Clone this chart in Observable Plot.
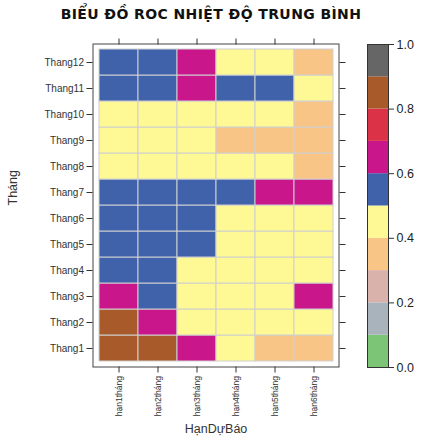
<!DOCTYPE html>
<html>
<head>
<meta charset="utf-8">
<script src="https://cdn.jsdelivr.net/npm/d3@7"></script>
<script src="https://cdn.jsdelivr.net/npm/@observablehq/plot@0.6"></script>
<style>
  html, body { margin: 0; padding: 0; background: #fff; }
  #wrap { position: relative; width: 422px; height: 442px; overflow: hidden; font-family: "Liberation Sans", Arial, sans-serif; }
  #title { position: absolute; left: 0; top: 6px; width: 422px; text-align: center; font-family: "DejaVu Sans", sans-serif; font-weight: bold; font-size: 14px; letter-spacing: 0.4px; color: #111; }
  #main, #bar { position: absolute; top: 0; }
  #main { left: 0; }
  #bar { left: 360px; }
</style>
</head>
<body>
<div id="wrap">
  <div id="title">BIỂU ĐỒ ROC NHIỆT ĐỘ TRUNG BÌNH</div>
  <div id="main"></div>
  <div id="bar"></div>
</div>
<script>
const months = ["Thang1","Thang2","Thang3","Thang4","Thang5","Thang6","Thang7","Thang8","Thang9","Thang10","Thang11","Thang12"];
const leads = ["hạn1tháng","hạn2tháng","hạn3tháng","hạn4tháng","hạn5tháng","hạn6tháng"];
// ROC values per month (rows) for each lead (columns), estimated from colour bins
const rocThang1  = [0.85, 0.85, 0.65, 0.45, 0.35, 0.35];
const rocThang2  = [0.85, 0.65, 0.45, 0.45, 0.45, 0.45];
const rocThang3  = [0.65, 0.55, 0.45, 0.45, 0.45, 0.65];
const rocThang4  = [0.55, 0.55, 0.45, 0.45, 0.45, 0.45];
const rocThang5  = [0.55, 0.55, 0.55, 0.45, 0.45, 0.45];
const rocThang6  = [0.55, 0.55, 0.55, 0.45, 0.45, 0.45];
const rocThang7  = [0.55, 0.55, 0.55, 0.55, 0.65, 0.65];
const rocThang8  = [0.45, 0.45, 0.45, 0.45, 0.45, 0.35];
const rocThang9  = [0.45, 0.45, 0.45, 0.35, 0.35, 0.35];
const rocThang10 = [0.45, 0.45, 0.45, 0.45, 0.45, 0.35];
const rocThang11 = [0.55, 0.55, 0.65, 0.55, 0.55, 0.45];
const rocThang12 = [0.55, 0.55, 0.65, 0.45, 0.45, 0.35];
const colorBreaks = [0.1, 0.2, 0.3, 0.4, 0.5, 0.6, 0.7, 0.8, 0.9];
const colorRange = ["#7cc576","#a8b3bb","#d9b2ac","#f9c587","#fef994","#3f62ab","#c9168a","#db3247","#a85a2b","#666666"];
const barTicks = [0, 0.2, 0.4, 0.6, 0.8, 1.0];
const barEdges = [0, 0.1, 0.2, 0.3, 0.4, 0.5, 0.6, 0.7, 0.8, 0.9, 1.0];

const rows = [rocThang1, rocThang2, rocThang3, rocThang4, rocThang5, rocThang6, rocThang7, rocThang8, rocThang9, rocThang10, rocThang11, rocThang12];
const table = [];
rows.forEach((r, i) => r.forEach((v, j) => table.push({month: months[i], lead: leads[j], value: v})));

const colorScale = {type: "threshold", domain: colorBreaks, range: colorRange};
const font = "Liberation Sans, Arial, sans-serif";

const main = Plot.plot({
  width: 422, height: 442,
  marginLeft: 96, marginRight: 87, marginTop: 47, marginBottom: 79,
  style: {fontFamily: font, background: "transparent", color: "#222"},
  x: {type: "band", domain: leads, padding: 0, label: null},
  y: {type: "band", domain: months.slice().reverse(), padding: 0, label: null},
  color: colorScale,
  marks: [
    Plot.cell(table, {x: "lead", y: "month", fill: "value", stroke: "#cfcfcf", strokeWidth: 1}),
    Plot.frame({stroke: "#444", strokeWidth: 1, inset: -3.5}),
    Plot.axisX({anchor: "bottom", tickSize: 6, dy: 3.5, tickRotate: -90, tickPadding: 3, fontSize: 8.5, fontFamily: "Liberation Sans Narrow, Arial Narrow, sans-serif", stroke: "#333", fill: "#333", label: null}),
    Plot.axisX({anchor: "top", tickSize: 6, dy: -3.5, tickFormat: () => "", stroke: "#333", label: null}),
    Plot.axisY({anchor: "left", tickSize: 6, dx: -3.5, tickPadding: 3, fontSize: 10, stroke: "#333", fill: "#333", label: null}),
    Plot.axisY({anchor: "right", tickSize: 6, dx: 3.5, tickFormat: () => "", stroke: "#333", label: null}),
    Plot.text(["HạnDựBáo"], {frameAnchor: "bottom", dy: 69, fontSize: 12.5, fill: "#333"}),
    Plot.text(["Tháng"], {frameAnchor: "left", dx: -84, rotate: -90, fontSize: 12.5, fill: "#333"})
  ]
});
document.getElementById("main").appendChild(main);

const segs = barEdges.slice(0, -1).map((lo, i) => ({lo, hi: barEdges[i + 1], mid: (lo + barEdges[i + 1]) / 2}));
const bar = Plot.plot({
  width: 62, height: 442,
  marginLeft: 7, marginRight: 34, marginTop: 44, marginBottom: 75,
  style: {fontFamily: font, background: "transparent", color: "#222"},
  x: {domain: [0, 1], axis: null},
  y: {domain: [0, 1], label: null},
  color: colorScale,
  marks: [
    Plot.rect(segs, {x1: 0, x2: 1, y1: "lo", y2: "hi", fill: "mid"}),
    Plot.frame({stroke: "#333", strokeWidth: 1}),
    Plot.axisY(barTicks, {anchor: "right", tickSize: 5, tickPadding: 3, tickFormat: d3.format(".1f"), fontSize: 12.5, stroke: "#333", fill: "#222", label: null})
  ]
});
document.getElementById("bar").appendChild(bar);
</script>
</body>
</html>
